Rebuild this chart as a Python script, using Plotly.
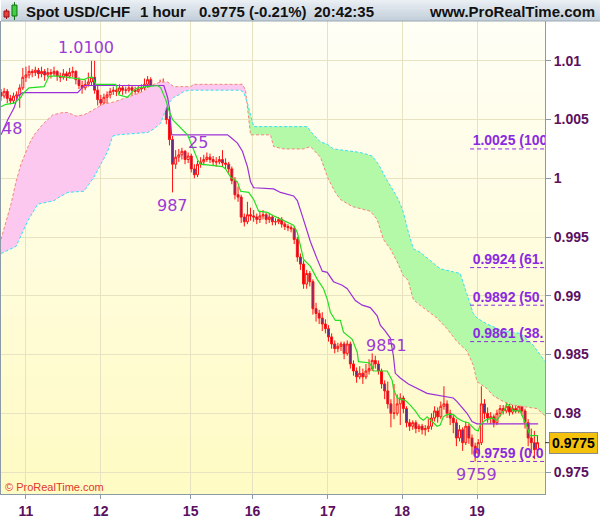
import numpy as np
import plotly.graph_objects as go

# ---------------- header values ----------------
instrument = "Spot USD/CHF"
timeframe = "1 hour"
last_price = 0.9775
pct_change = "(-0.21%)"
clock = "20:42:35"
site = "www.ProRealTime.com"

# ---------------- axis labels ----------------
day_ticks = [8.0, 32.0, 60.8, 80.6, 104.8, 128.6, 152.6]
day_labels = ["11", "12", "15", "16", "17", "18", "19"]
price_ticks = [0.975, 0.98, 0.985, 0.99, 0.995, 1.0, 1.005, 1.01]
price_labels = ["0.975", "0.98", "0.985", "0.99", "0.995", "1", "1.005", "1.01"]

# ---------------- hourly candles ----------------
opens = [
 1.0073,1.0070,1.0074,1.0068,1.0066,1.0070,1.0071,1.0077,1.0086,1.0088,1.0091,1.0090,1.0092,1.0089,1.0091,1.0088,
 1.0090,1.0089,1.0091,1.0087,1.0086,1.0089,1.0087,1.0090,1.0091,1.0084,1.0079,1.0077,1.0080,1.0082,1.0086,1.0075,
 1.0067,1.0064,1.0069,1.0071,1.0074,1.0075,1.0074,1.0077,1.0075,1.0075,1.0077,1.0075,1.0074,1.0076,1.0077,1.0080,
 1.0084,1.0077,1.0074,1.0075,1.0077,1.0067,1.0050,1.0033,1.0012,1.0018,1.0020,1.0023,1.0016,1.0019,1.0008,1.0003,
 1.0012,1.0014,1.0016,1.0018,1.0016,1.0014,1.0014,1.0016,1.0013,1.0012,1.0008,0.9998,0.9986,0.9984,0.9967,0.9963,
 0.9969,0.9968,0.9967,0.9965,0.9968,0.9969,0.9965,0.9967,0.9963,0.9963,0.9965,0.9961,0.9959,0.9958,0.9957,0.9948,
 0.9933,0.9927,0.9910,0.9919,0.9912,0.9889,0.9885,0.9881,0.9876,0.9872,0.9865,0.9859,0.9855,0.9857,0.9859,0.9851,
 0.9859,0.9842,0.9836,0.9831,0.9834,0.9831,0.9836,0.9838,0.9845,0.9842,0.9836,0.9825,0.9819,0.9808,0.9800,0.9800,
 0.9808,0.9813,0.9804,0.9792,0.9789,0.9792,0.9787,0.9789,0.9786,0.9787,0.9789,0.9796,0.9802,0.9797,0.9806,0.9808,
 0.9800,0.9796,0.9792,0.9779,0.9786,0.9775,0.9789,0.9779,0.9772,0.9766,0.9775,0.9808,0.9800,0.9796,0.9797,0.9792,
 0.9800,0.9804,0.9802,0.9806,0.9801,0.9804,0.9802,0.9806,0.9802,0.9792,0.9779,0.9775,0.9769]
highs = [
 1.0076,1.0077,1.0076,1.0071,1.0073,1.0074,1.0080,1.0094,1.0095,1.0096,1.0093,1.0095,1.0094,1.0095,1.0093,1.0094,
 1.0093,1.0095,1.0092,1.0090,1.0093,1.0091,1.0094,1.0095,1.0092,1.0086,1.0083,1.0084,1.0090,1.0100,1.0100,1.0079,
 1.0071,1.0072,1.0074,1.0077,1.0078,1.0077,1.0080,1.0079,1.0078,1.0080,1.0079,1.0078,1.0079,1.0080,1.0085,1.0087,
 1.0086,1.0079,1.0078,1.0084,1.0085,1.0070,1.0053,1.0036,1.0024,1.0025,1.0026,1.0024,1.0022,1.0021,1.0012,1.0015,
 1.0018,1.0020,1.0022,1.0021,1.0019,1.0018,1.0019,1.0024,1.0017,1.0014,1.0010,1.0001,0.9993,0.9986,0.9970,0.9980,
 0.9975,0.9973,0.9970,0.9972,0.9973,0.9971,0.9970,0.9969,0.9966,0.9967,0.9967,0.9963,0.9961,0.9960,0.9959,0.9950,
 0.9936,0.9930,0.9922,0.9921,0.9914,0.9894,0.9888,0.9886,0.9880,0.9875,0.9868,0.9862,0.9860,0.9861,0.9861,0.9862,
 0.9861,0.9845,0.9839,0.9840,0.9838,0.9842,0.9846,0.9851,0.9849,0.9845,0.9838,0.9828,0.9827,0.9812,0.9825,0.9816,
 0.9817,0.9815,0.9806,0.9795,0.9794,0.9794,0.9791,0.9791,0.9790,0.9795,0.9800,0.9806,0.9805,0.9810,0.9823,0.9811,
 0.9803,0.9799,0.9795,0.9790,0.9788,0.9793,0.9791,0.9782,0.9775,0.9778,0.9823,0.9812,0.9805,0.9801,0.9799,0.9803,
 0.9807,0.9807,0.9809,0.9808,0.9807,0.9807,0.9808,0.9808,0.9804,0.9795,0.9787,0.9785,0.9781]
lows = [
 1.0066,1.0068,1.0064,1.0063,1.0064,1.0066,1.0060,1.0075,1.0082,1.0085,1.0086,1.0087,1.0085,1.0086,1.0083,1.0086,
 1.0085,1.0087,1.0083,1.0082,1.0084,1.0083,1.0085,1.0086,1.0080,1.0076,1.0072,1.0075,1.0078,1.0079,1.0072,1.0062,
 1.0058,1.0060,1.0063,1.0068,1.0071,1.0070,1.0072,1.0071,1.0072,1.0073,1.0070,1.0071,1.0072,1.0073,1.0075,1.0077,
 1.0074,1.0070,1.0071,1.0073,1.0064,1.0046,1.0028,0.9988,1.0008,1.0014,1.0016,1.0012,1.0013,1.0005,1.0000,1.0001,
 1.0009,1.0011,1.0014,1.0013,1.0011,1.0010,1.0012,1.0010,1.0008,1.0004,0.9995,0.9982,0.9980,0.9962,0.9959,0.9961,
 0.9964,0.9963,0.9961,0.9962,0.9965,0.9961,0.9962,0.9960,0.9960,0.9961,0.9958,0.9956,0.9955,0.9954,0.9944,0.9929,
 0.9922,0.9906,0.9906,0.9908,0.9884,0.9878,0.9876,0.9870,0.9868,0.9861,0.9855,0.9851,0.9852,0.9853,0.9846,0.9849,
 0.9838,0.9832,0.9826,0.9829,0.9825,0.9829,0.9833,0.9836,0.9838,0.9833,0.9821,0.9812,0.9804,0.9788,0.9795,0.9798,
 0.9790,0.9800,0.9788,0.9785,0.9786,0.9783,0.9784,0.9782,0.9781,0.9784,0.9786,0.9793,0.9792,0.9795,0.9803,0.9796,
 0.9790,0.9783,0.9772,0.9776,0.9768,0.9773,0.9774,0.9765,0.9759,0.9763,0.9773,0.9795,0.9792,0.9791,0.9788,0.9790,
 0.9797,0.9799,0.9800,0.9798,0.9799,0.9800,0.9800,0.9798,0.9787,0.9772,0.9766,0.9761,0.9766]
closes = [
 1.0070,1.0074,1.0068,1.0066,1.0070,1.0071,1.0077,1.0086,1.0088,1.0091,1.0090,1.0092,1.0089,1.0091,1.0088,1.0090,
 1.0089,1.0091,1.0087,1.0086,1.0089,1.0087,1.0090,1.0091,1.0084,1.0079,1.0077,1.0080,1.0082,1.0086,1.0075,1.0067,
 1.0064,1.0069,1.0071,1.0074,1.0075,1.0074,1.0077,1.0075,1.0075,1.0077,1.0075,1.0074,1.0076,1.0077,1.0080,1.0084,
 1.0077,1.0074,1.0075,1.0077,1.0067,1.0050,1.0033,1.0012,1.0018,1.0020,1.0023,1.0016,1.0019,1.0008,1.0003,1.0012,
 1.0014,1.0016,1.0018,1.0016,1.0014,1.0014,1.0016,1.0013,1.0012,1.0008,0.9998,0.9986,0.9984,0.9967,0.9963,0.9969,
 0.9968,0.9967,0.9965,0.9968,0.9969,0.9965,0.9967,0.9963,0.9963,0.9965,0.9961,0.9959,0.9958,0.9957,0.9948,0.9933,
 0.9927,0.9910,0.9919,0.9912,0.9889,0.9885,0.9881,0.9876,0.9872,0.9865,0.9859,0.9855,0.9857,0.9859,0.9851,0.9859,
 0.9842,0.9836,0.9831,0.9834,0.9831,0.9836,0.9838,0.9845,0.9842,0.9836,0.9825,0.9819,0.9808,0.9800,0.9800,0.9808,
 0.9813,0.9804,0.9792,0.9789,0.9792,0.9787,0.9789,0.9786,0.9787,0.9789,0.9796,0.9802,0.9797,0.9806,0.9808,0.9800,
 0.9796,0.9792,0.9779,0.9786,0.9775,0.9789,0.9779,0.9772,0.9766,0.9775,0.9808,0.9800,0.9796,0.9797,0.9792,0.9800,
 0.9804,0.9802,0.9806,0.9801,0.9804,0.9802,0.9806,0.9802,0.9792,0.9779,0.9775,0.9769,0.9775]
bar_index = list(range(len(closes)))

# ---------------- Ichimoku lines (vertices) ----------------
tenkan_x = [0,1.6,4.2,6.4,7.0,9.0,13.8,15.0,15.4,18.6,21.4,22.4,26.6,28.2,29.4,30.4,36.8,37.8,40.6,42.2,43.8,47.0,50.2,
            51.2,52.8,53.8,55.0,59.8,61.4,63.0,64.0,71.0,72.0,73.6,75.8,76.8,79.4,81.0,82.6,85.4,87.4,90.6,93.8,95.0,
            96.0,97.0,99.2,101.4,103.4,104.6,105.6,107.2,108.8,109.8,112.6,114.2,114.6,117.8,119.0,119.4,123.8,125.4,
            125.8,127.0,129.6,131.2,132.8,134.4,135.4,136.6,138.2,139.8,140.8,141.8,143.0,145.0,146.2,148.2,149.8,
            152.0,153.0,153.6,155.2,157.4,159.0,160.0,161.6,162.2,163.2,164.2,166.4,167.4,168.6,169.6,172.2]
tenkan_y = [1.0061,1.0063,1.0064,1.0069,1.0072,1.0077,1.0078,1.0084,1.0087,1.0087,1.0086,1.0085,1.0084,1.0086,1.0086,
            1.0080,1.0080,1.0071,1.0069,1.0074,1.0077,1.0078,1.0079,1.0077,1.0067,1.0058,1.0050,1.0037,1.0027,1.0016,
            1.0012,1.0010,1.0008,1.0001,0.9997,0.9989,0.9988,0.9982,0.9972,0.9971,0.9968,0.9964,0.9960,0.9954,0.9942,
            0.9931,0.9925,0.9914,0.9906,0.9897,0.9886,0.9879,0.9879,0.9869,0.9863,0.9852,0.9844,0.9843,0.9840,0.9836,
            0.9836,0.9828,0.9821,0.9813,0.9811,0.9807,0.9802,0.9796,0.9794,0.9797,0.9793,0.9789,0.9790,0.9797,0.9799,
            0.9799,0.9796,0.9793,0.9792,0.9786,0.9785,0.9790,0.9794,0.9796,0.9794,0.9798,0.9804,0.9808,0.9806,0.9802,
            0.9802,0.9796,0.9789,0.9781,0.9781]
kijun_x = [0,2.2,4.2,5.4,7.0,24.6,26.6,52.2,53.4,54.1,54.7,72.6,73.6,75.8,77.4,79.0,80.0,81.0,87.4,89.6,93.8,95.0,
           96.6,99.2,101.4,103.0,104.6,106.6,109.4,111.0,113.6,115.8,118.4,120.6,121.6,123.2,124.8,125.8,126.4,128.0,
           130.6,135.4,136.6,145.0,146.2,149.4,151.0,152.6,172.2]
kijun_y = [1.0037,1.0050,1.0060,1.0070,1.0073,1.0073,1.0079,1.0079,1.0069,1.0058,1.0037,1.0037,1.0035,1.0030,1.0023,
           1.0010,0.9997,0.9992,0.9991,0.9988,0.9985,0.9981,0.9968,0.9946,0.9931,0.9921,0.9920,0.9912,0.9909,0.9906,
           0.9896,0.9892,0.9890,0.9883,0.9875,0.9870,0.9864,0.9849,0.9834,0.9830,0.9825,0.9819,0.9817,0.9813,0.9810,
           0.9800,0.9793,0.9791,0.9791]

# cloud edges: span B (salmon dashed) and span A (cyan dashed)
span_b_x = [0,3.2,4.8,6.4,9.0,10.6,13.4,16.6,19.8,21.4,24.0,26.6,29.4,32.6,36.2,40.6,44.8,49.0,51.2,53.4,55.4,60.8,
            61.8,77.4,78.4,80.0,86.4,87.4,90.6,97.0,99.2,102.4,103.4,105.0,107.2,108.8,112.6,118.4,120.6,122.6,124.8,
            127.0,129.0,130.6,131.2,132.2,133.8,139.8,143.0,146.2,149.4,151.4,152.6,155.8,157.8,161.0,164.2,167.4,
            171.8,174.4]
span_b_y = [0.9948,0.9978,0.9997,1.0012,1.0029,1.0037,1.0046,1.0054,1.0056,1.0056,1.0053,1.0054,1.0058,1.0063,1.0065,
            1.0069,1.0073,1.0080,1.0082,1.0082,1.0078,1.0078,1.0080,1.0080,1.0075,1.0037,1.0037,1.0027,1.0025,1.0025,
            1.0027,1.0018,1.0010,0.9999,0.9988,0.9982,0.9976,0.9972,0.9965,0.9948,0.9940,0.9929,0.9917,0.9913,0.9906,
            0.9897,0.9893,0.9881,0.9872,0.9861,0.9853,0.9841,0.9827,0.9821,0.9815,0.9810,0.9807,0.9806,0.9804,0.9798]
span_a_x = [0,4.8,8.6,11.8,17.0,18.6,21.4,26.6,28.2,29.8,32.0,34.2,35.8,37.4,47.0,49.0,51.2,53.4,55.4,57.0,58.6,60.8,
            76.8,77.8,79.0,80.0,81.0,98.2,99.2,102.4,104.6,106.6,115.2,119.0,121.0,123.2,125.4,127.4,129.0,130.6,132.2,
            134.4,137.6,140.8,147.2,149.8,151.4,152.6,155.8,161.0,166.4,170.6,173.4,174.4]
span_a_y = [0.9936,0.9942,0.9964,0.9978,0.9981,0.9984,0.9988,0.9989,0.9995,1.0001,1.0012,1.0023,1.0036,1.0037,1.0039,
            1.0042,1.0047,1.0063,1.0069,1.0071,1.0074,1.0075,1.0075,1.0073,1.0064,1.0053,1.0044,1.0044,1.0040,1.0031,
            1.0029,1.0025,1.0022,1.0019,1.0012,1.0001,0.9991,0.9982,0.9971,0.9954,0.9940,0.9937,0.9930,0.9923,0.9919,
            0.9898,0.9885,0.9881,0.9876,0.9870,0.9868,0.9858,0.9847,0.9844]
cloud_cross_x = 78.7

# ---------------- Fibonacci retracement (labels as visible before the right edge) ----------------
fib_levels = [1.0025, 0.9924, 0.9892, 0.9861, 0.9759]
fib_texts = ["1.0025 (100", "0.9924 (61.", "0.9892 (50.", "0.9861 (38.", "0.9759 (0.0"]
fib_start = 150.4
fib_end = 174.4

# ---------------- high/low labels ----------------
hl_text = ["1.0100", "987", "25", "9851", "9759"]
hl_x = [27.4, 55.0, 63.0, 123.5, 152.3]
hl_y = [1.0100, 0.9988, 1.0019, 0.9846, 0.9759]
hl_pos = ["above", "below", "above", "above", "below"]
left_label = "48"
left_label_y = 1.0042

XMAX = 174.4
YMIN, YMAX = 0.97313, 1.01339

fig = go.Figure()

# cloud fills
ax, ay = np.array(span_a_x), np.array(span_a_y)
bx, by = np.array(span_b_x), np.array(span_b_y)
cy_a = float(np.interp(cloud_cross_x, ax, ay))
cy_b = float(np.interp(cloud_cross_x, bx, by))
cy = (cy_a + cy_b) / 2
m_b, m_a = bx < cloud_cross_x, ax < cloud_cross_x
pink_x = list(bx[m_b]) + [cloud_cross_x] + list(ax[m_a][::-1])
pink_y = list(by[m_b]) + [cy] + list(ay[m_a][::-1])
g_x = [cloud_cross_x] + list(ax[~m_a]) + list(bx[~m_b][::-1])
g_y = [cy] + list(ay[~m_a]) + list(by[~m_b][::-1])
fig.add_trace(go.Scatter(x=pink_x, y=pink_y, fill="toself", fillcolor="#fdc8f0", mode="lines",
                         line=dict(width=0), hoverinfo="skip"))
fig.add_trace(go.Scatter(x=g_x, y=g_y, fill="toself", fillcolor="#b4f9a8", mode="lines",
                         line=dict(width=0), hoverinfo="skip"))
fig.add_trace(go.Scatter(x=span_b_x, y=span_b_y, mode="lines",
                         line=dict(color="#f3877a", width=1, dash="3px,2px")))
fig.add_trace(go.Scatter(x=span_a_x, y=span_a_y, mode="lines",
                         line=dict(color="#35e2f2", width=1, dash="3px,2px")))

# fib lines and labels
for lv, tx in zip(fib_levels, fib_texts):
    fig.add_trace(go.Scatter(x=[fib_start, fib_end], y=[lv, lv], mode="lines",
                             line=dict(color="#8a2be2", width=1, dash="4px,3px")))
    fig.add_trace(go.Scatter(x=[fib_start + 0.8], y=[lv], mode="text", text=[tx],
                             textposition="top right", cliponaxis=True,
                             textfont=dict(family="Liberation Sans, Arial", size=14, color="#8a2be2",
                                           weight="bold")))

# candles
fig.add_trace(go.Candlestick(x=bar_index, open=opens, high=highs, low=lows, close=closes,
                             increasing=dict(line=dict(color="#ff1010", width=1), fillcolor="rgba(0,0,0,0)"),
                             decreasing=dict(line=dict(color="#ff1010", width=1), fillcolor="#5a2f8f"),
                             whiskerwidth=0, hoverinfo="skip"))

# indicator lines
fig.add_trace(go.Scatter(x=kijun_x, y=kijun_y, mode="lines", line=dict(color="#9b30d8", width=1.2)))
fig.add_trace(go.Scatter(x=tenkan_x, y=tenkan_y, mode="lines", line=dict(color="#22e022", width=1.2)))

annotations = []
for t, x, y, p in zip(hl_text, hl_x, hl_y, hl_pos):
    annotations.append(dict(x=x, y=y, xref="x", yref="y", text=t, showarrow=False,
                            yanchor="bottom" if p == "above" else "top",
                            yshift=2 if p == "above" else -2,
                            font=dict(family="DejaVu Sans", size=16, color="#9b3bd6")))
annotations.append(dict(x=0, y=left_label_y, xref="x", yref="y", text=left_label, showarrow=False,
                        xanchor="left", yanchor="middle", xshift=-1,
                        font=dict(family="DejaVu Sans", size=16, color="#9b3bd6")))

PH = 475.0
def py(p):
    return (496 - p) / PH
def px(p):
    return p / 545.0

shapes = []
# plot background gradient
N = 40
c_top = np.array([255, 255, 246])
c_bot = np.array([255, 251, 196])
for k in range(N):
    f = k / (N - 1)
    c = c_bot * (1 - f) + c_top * f
    shapes.append(dict(type="rect", xref="paper", yref="paper", x0=0, x1=1, y0=k / N, y1=(k + 1) / N + 0.002,
                       fillcolor="rgb(%d,%d,%d)" % tuple(c.astype(int)), line=dict(width=0), layer="below"))
# header bar gradient
H = 12
h_top = np.array([234, 239, 244])
h_bot = np.array([196, 208, 219])
for k in range(H):
    f = k / (H - 1)
    c = h_top * (1 - f) + h_bot * f
    shapes.append(dict(type="rect", xref="paper", yref="paper", x0=px(0), x1=px(600),
                       y0=py(21 * (k + 1) / H), y1=py(21 * k / H) + 0.001,
                       fillcolor="rgb(%d,%d,%d)" % tuple(c.astype(int)), line=dict(width=0), layer="above"))
shapes.append(dict(type="line", xref="paper", yref="paper", x0=0, x1=px(600), y0=py(21), y1=py(21),
                   line=dict(color="#9aa8b4", width=1)))
# header icon
shapes.append(dict(type="line", xref="paper", yref="paper", x0=px(5.5), x1=px(5.5), y0=py(19), y1=py(9),
                   line=dict(color="#a01010", width=1)))
shapes.append(dict(type="rect", xref="paper", yref="paper", x0=px(3), x1=px(8), y0=py(17), y1=py(11),
                   fillcolor="#e84040", line=dict(color="#901010", width=1)))
shapes.append(dict(type="line", xref="paper", yref="paper", x0=px(13.5), x1=px(13.5), y0=py(20), y1=py(2),
                   line=dict(color="#107010", width=1)))
shapes.append(dict(type="rect", xref="paper", yref="paper", x0=px(11), x1=px(16), y0=py(16), y1=py(5),
                   fillcolor="#40d040", line=dict(color="#107010", width=1)))
# price marker tick
shapes.append(dict(type="line", xref="paper", yref="y", x0=1.0, x1=px(549), y0=last_price, y1=last_price,
                   line=dict(color="#333333", width=1)))

hdr_font = dict(family="Liberation Sans, Arial", size=15, color="#111111", weight="bold")
for txt, xpos, anc in [(instrument, 23, "left"), (timeframe, 137, "left"),
                       ("%.4f %s" % (last_price, pct_change), 196, "left"), (clock, 312, "left"),
                       (site, 597, "right")]:
    annotations.append(dict(x=px(xpos), y=py(11), xref="paper", yref="paper", text=txt, showarrow=False,
                            xanchor=anc, yanchor="middle", font=hdr_font))
annotations.append(dict(x=px(2), y=py(489), xref="paper", yref="paper", text="© ProRealTime.com",
                        showarrow=False, xanchor="left", yanchor="middle",
                        font=dict(family="Liberation Sans, Arial", size=11, color="#e0382a")))
annotations.append(dict(x=px(549), y=last_price, xref="paper", yref="y", text="%.4f" % last_price,
                        showarrow=False, xanchor="left", yanchor="middle", bgcolor="#f4c20d",
                        bordercolor="#8a8a8a", borderwidth=1, borderpad=2,
                        font=dict(family="Liberation Sans, Arial", size=14, color="#000000", weight="bold")))

axis_font = dict(family="Liberation Sans, Arial", size=14, color="#5c1060", weight="bold")
fig.update_layout(
    width=600, height=519,
    margin=dict(l=0, r=55, t=21, b=23),
    paper_bgcolor="white", plot_bgcolor="#fffde2",
    showlegend=False, boxgap=0.1,
    shapes=shapes, annotations=annotations,
    xaxis=dict(range=[0, XMAX], tickvals=day_ticks, ticktext=day_labels, tickfont=axis_font,
               showgrid=True, gridcolor="#e6e2c2", gridwidth=1, zeroline=False,
               ticks="outside", ticklen=4, tickcolor="#8c99a6",
               showline=True, linecolor="#8c99a6", linewidth=1,
               rangeslider=dict(visible=False), fixedrange=True),
    yaxis=dict(range=[YMIN, YMAX], side="right", tickvals=price_ticks, ticktext=price_labels,
               tickfont=axis_font, showgrid=True, gridcolor="#e6e2c2", gridwidth=1, zeroline=False,
               ticks="outside", ticklen=5, tickcolor="#8c99a6",
               showline=True, linecolor="#8c99a6", linewidth=1, mirror=True),
)

fig.write_html("out.html", config={"displayModeBar": False},
               post_script="document.body.style.margin='0';document.body.style.overflow='hidden';")
